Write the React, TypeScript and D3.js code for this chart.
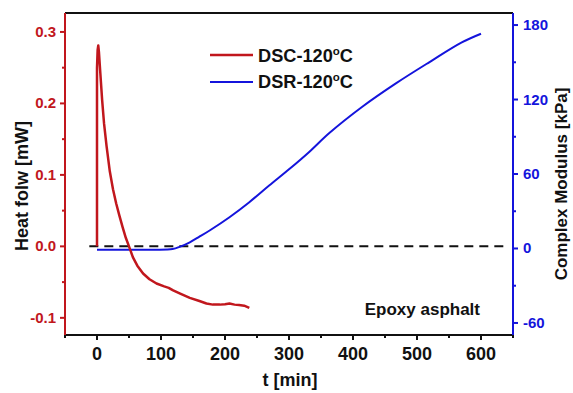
import React from "react";
import * as d3 from "d3";

const dscTime = [0, 0, 1, 2, 3, 5, 8, 11, 15, 20, 25, 30, 35, 40, 45, 50, 56, 63, 72, 82, 93, 105, 112, 119, 130, 145, 160, 171, 181, 192, 200, 207, 215, 222, 230, 238];
const dscHeat = [0, 0.25, 0.275, 0.281, 0.272, 0.245, 0.205, 0.172, 0.14, 0.105, 0.08, 0.06, 0.043, 0.027, 0.012, 0.0, -0.015, -0.027, -0.038, -0.046, -0.052, -0.056, -0.058, -0.0615, -0.066, -0.072, -0.0765, -0.08, -0.0815, -0.0815, -0.081, -0.08, -0.0815, -0.082, -0.083, -0.086];

const dsrTime = [0, 30, 60, 90, 118, 130, 145, 160, 176, 207, 238, 269, 301, 332, 363, 414, 467, 519, 570, 600];
const dsrModulus = [-1, -1, -1, -1, -0.5, 1.5, 5, 9.5, 14.5, 25.2, 37.3, 50.7, 64.2, 78, 93, 114, 133, 150, 166, 173];

const xTicks = [0, 100, 200, 300, 400, 500, 600];
const xMinor = [-50, 50, 150, 250, 350, 450, 550, 650];
const leftTicks = [-0.1, 0.0, 0.1, 0.2, 0.3];
const leftMinor = [-0.05, 0.05, 0.15, 0.25];
const rightTicks = [-60, 0, 60, 120, 180];
const rightMinor = [-30, 30, 90, 150];

const RED = "#c1171d";
const BLUE = "#1414dc";

export default function App() {
  const L = 65, R = 513, T = 13, B = 335;
  const x = d3.scaleLinear().domain([-50, 650]).range([L, R]);
  const yL = d3.scaleLinear().domain([-0.124, 0.3265]).range([B, T]);
  const yR = d3.scaleLinear().domain([-69.7, 189.7]).range([B, T]);

  const dscLine = d3.line<number>().x((_, i) => x(dscTime[i])).y((d) => yL(d)).curve(d3.curveLinear);
  const dsrLine = d3.line<number>().x((_, i) => x(dsrTime[i])).y((d) => yR(d)).curve(d3.curveCatmullRom.alpha(0.5));

  const font = "'Liberation Sans', Arial, Helvetica, sans-serif";

  return (
    <svg width={573} height={393} style={{ position: "absolute", left: 0, top: 0 }} fontFamily={font} fontWeight="bold">
      <rect width={573} height={393} fill="#fff" />
      {/* zero dashed line */}
      <line x1={x(-12)} x2={x(643)} y1={yL(0)} y2={yL(0)} stroke="#111" strokeWidth={2} strokeDasharray="9 6" />
      {/* curves */}
      <path d={dsrLine(dsrModulus) || ""} fill="none" stroke={BLUE} strokeWidth={2} />
      <path d={dscLine(dscHeat) || ""} fill="none" stroke={RED} strokeWidth={2.5} strokeLinejoin="round" />
      {/* frame */}
      <line x1={L} x2={R} y1={T} y2={T} stroke="#111" strokeWidth={2} />
      <line x1={L} x2={R} y1={B} y2={B} stroke="#111" strokeWidth={2} />
      <line x1={L} x2={L} y1={T} y2={B + 1} stroke={RED} strokeWidth={2} />
      <line x1={R} x2={R} y1={T} y2={B + 1} stroke={BLUE} strokeWidth={2} />
      {/* x ticks */}
      {xTicks.map((t) => (
        <g key={"x" + t}>
          <line x1={x(t)} x2={x(t)} y1={B} y2={B + 5} stroke="#111" strokeWidth={2} />
          <text x={x(t)} y={B + 25} textAnchor="middle" fontSize={18} fill="#111">{t}</text>
        </g>
      ))}
      {xMinor.map((t) => (
        <line key={"xm" + t} x1={x(t)} x2={x(t)} y1={B} y2={B + 3} stroke="#111" strokeWidth={2} />
      ))}
      {/* left ticks */}
      {leftTicks.map((t) => (
        <g key={"l" + t}>
          <line x1={L - 5} x2={L} y1={yL(t)} y2={yL(t)} stroke={RED} strokeWidth={2} />
          <text x={L - 9} y={yL(t) + 5} textAnchor="end" fontSize={15} fill={RED}>{t.toFixed(1)}</text>
        </g>
      ))}
      {leftMinor.map((t) => (
        <line key={"lm" + t} x1={L - 3} x2={L} y1={yL(t)} y2={yL(t)} stroke={RED} strokeWidth={2} />
      ))}
      {/* right ticks */}
      {rightTicks.map((t) => (
        <g key={"r" + t}>
          <line x1={R} x2={R + 5} y1={yR(t)} y2={yR(t)} stroke={BLUE} strokeWidth={2} />
          <text x={R + 10} y={yR(t) + 5} textAnchor="start" fontSize={15} fill={BLUE}>{t}</text>
        </g>
      ))}
      {rightMinor.map((t) => (
        <line key={"rm" + t} x1={R} x2={R + 3} y1={yR(t)} y2={yR(t)} stroke={BLUE} strokeWidth={2} />
      ))}
      {/* axis titles */}
      <text x={290} y={386} textAnchor="middle" fontSize={18} fill="#111">t [min]</text>
      <text transform={`translate(28,186) rotate(-90)`} textAnchor="middle" fontSize={18} fill="#111">Heat folw [mW]</text>
      <text transform={`translate(567,184) rotate(-90)`} textAnchor="middle" fontSize={17} fill="#111">Complex Modulus [kPa]</text>
      {/* legend */}
      <line x1={210} x2={253} y1={55} y2={55} stroke={RED} strokeWidth={2.5} />
      <text x={258} y={61.5} fontSize={18.2} fill="#111">DSC-120<tspan fontSize={11.5} dy={-7}>o</tspan><tspan dy={7}>C</tspan></text>
      <line x1={210} x2={253} y1={82} y2={82} stroke={BLUE} strokeWidth={2} />
      <text x={258} y={88} fontSize={18.2} fill="#111">DSR-120<tspan fontSize={11.5} dy={-7}>o</tspan><tspan dy={7}>C</tspan></text>
      {/* annotation */}
      <text x={480} y={315} textAnchor="end" fontSize={17} fill="#111">Epoxy asphalt</text>
    </svg>
  );
}
